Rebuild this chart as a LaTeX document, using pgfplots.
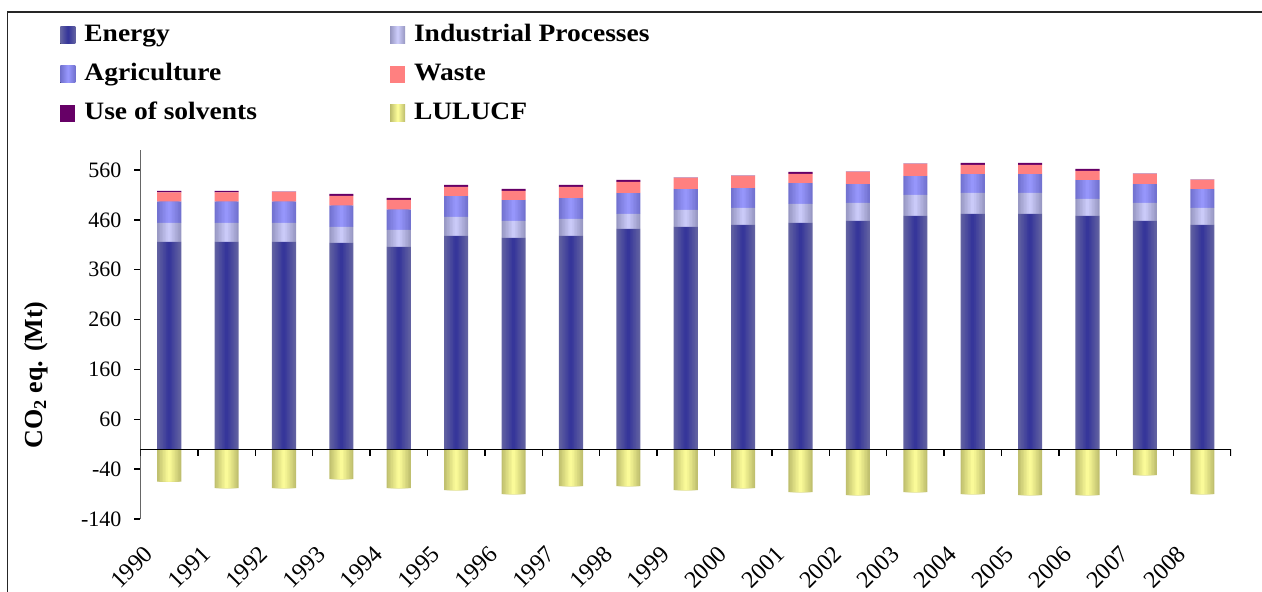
\documentclass[border=0pt]{standalone}
\usepackage{fontspec}
\setmainfont{Liberation Serif}
\newfontfamily\legfont{Liberation Serif}[FakeStretch=1.1]
\usepackage{pgfplots}
\usepackage{pgfplotstable}
\pgfplotsset{compat=1.18}

\definecolor{enEdge}{RGB}{100,100,162}
\definecolor{enMid}{RGB}{51,51,153}
\definecolor{ipEdge}{RGB}{150,150,192}
\definecolor{ipMid}{RGB}{206,206,252}
\definecolor{agEdge}{RGB}{112,112,205}
\definecolor{agMid}{RGB}{153,153,255}
\definecolor{waste}{RGB}{255,128,128}
\definecolor{solv}{RGB}{102,0,102}
\definecolor{luEdge}{RGB}{188,188,108}
\definecolor{luMid}{RGB}{255,255,155}

% idx: 0 = 1990 ... 18 = 2008, Mt CO2 eq.
\pgfplotstableread{
idx energy indus agri waste solv lulucf
0  416 38 43 18 3   -65
1  416 38 43 18 3   -78
2  416 38 43 19 0.5 -78
3  414 32 43 19 4   -60
4  406 34 41 19 4   -78
5  428 38 42 18 4   -82
6  424 34 42 18 4   -90
7  428 34 42 22 4   -74
8  442 30 42 22 4   -74
9  446 34 42 22 0.5 -82
10 450 34 40 24 0.5 -78
11 454 38 42 18 4   -86
12 458 36 38 24 0.5 -92
13 468 42 38 24 0.5 -86
14 472 42 38 18 4   -90
15 472 42 38 18 4   -92
16 468 34 38 18 4   -92
17 458 36 38 20 0.5 -52
18 450 34 38 18 0.5 -90
}\ghg

\pgfplotsset{ghgbase/.style={
  at={(0,0)}, anchor=south west,
  scale only axis, width=545.25pt, height=184.5pt,
  ybar stacked, stack negative=separate,
  xmin=-0.5, xmax=18.5, ymin=-140, ymax=600}}

\begin{document}
\begin{tikzpicture}
\path[use as bounding box] (-70.25pt,-36pt) rectangle (560.75pt,259.5pt);
\draw[line width=0.8pt, black!85] (-66.5pt,-40pt) -- (-66.5pt,253.6pt) -- (565pt,253.6pt);
% horizontal gradient of the bars: nested strips, edge colour outside, mid colour inside
\foreach \k in {0,...,7}{
  \pgfmathsetmacro\w{0.42*(1-\k/8)}
  \pgfmathtruncatemacro\m{(\k+0.5)*12.5}
  \begin{axis}[ghgbase, hide axis, bar width=\w]
  \addplot[draw=none, fill=enMid!\m!enEdge] table[x=idx,y=energy] {\ghg};
  \addplot[draw=none, fill=ipMid!\m!ipEdge] table[x=idx,y=indus] {\ghg};
  \addplot[draw=none, fill=agMid!\m!agEdge] table[x=idx,y=agri] {\ghg};
  \addplot[draw=none, fill=luMid!\m!luEdge] table[x=idx,y=lulucf] {\ghg};
  \end{axis}
}
\begin{axis}[ghgbase, bar width=0.42,
  axis y line=left, axis x line*=bottom,
  x axis line style={draw=none}, y axis line style={-, draw=black!60, line width=0.8pt},
  xtick=data,
  xticklabels={1990,1991,1992,1993,1994,1995,1996,1997,1998,1999,2000,2001,2002,2003,2004,2005,2006,2007,2008},
  xtick style={draw=none},
  ytick={-140,-40,60,160,260,360,460,560},
  ytick style={black, line width=0.7pt},
  tick align=outside, major tick length=3pt,
  /pgf/number format/assume math mode=true,
  yticklabel style={font=\fontsize{11}{13}\selectfont, xshift=-3pt},
  xticklabel style={font=\fontsize{12}{14}\selectfont, xshift=-7.7pt, yshift=-10pt, rotate=45, anchor=east},
  ylabel={\bfseries CO\textsubscript{2} eq. (Mt)},
  ylabel style={font=\fontsize{13}{15}\selectfont, at={(axis description cs:-0.0958,0.39)}, anchor=center},
  legend columns=2,
  legend image code/.code={\fill[#1] (0pt,-4.25pt) rectangle (7.5pt,4.25pt);},
  legend style={draw=none, fill=none, at={(axis description cs:0,1)}, anchor=north west,
    xshift=-43.25pt, yshift=68pt, font=\legfont\bfseries\fontsize{12.5}{14}\selectfont,
    nodes={inner ysep=2.5pt, inner xsep=4.5pt, text height=9pt, text depth=3pt},
    row sep=2.5pt, /tikz/every even column/.append style={column sep=62pt}},
  legend cell align=left,
]
\addlegendimage{draw=none, left color=enEdge, right color=enEdge, middle color=enMid}
\addlegendimage{draw=none, left color=ipEdge, right color=ipEdge, middle color=ipMid}
\addlegendimage{draw=none, left color=agEdge, right color=agEdge, middle color=agMid}
\addlegendimage{draw=none, fill=waste}
\addlegendimage{draw=none, fill=solv}
\addlegendimage{draw=none, left color=luEdge, right color=luEdge, middle color=luMid}
\addplot[draw=none, fill=none, forget plot] table[x=idx,y=energy] {\ghg};
\addplot[draw=none, fill=none, forget plot] table[x=idx,y=indus] {\ghg};
\addplot[draw=none, fill=none, forget plot] table[x=idx,y=agri] {\ghg};
\addplot[draw=none, fill=waste, forget plot] table[x=idx,y=waste] {\ghg};
\addplot[draw=none, fill=solv, forget plot] table[x=idx,y=solv] {\ghg};
\addplot[draw=none, fill=none, forget plot] table[x=idx,y=lulucf] {\ghg};
\legend{Energy,Industrial Processes,Agriculture,Waste,Use of solvents,LULUCF}
\draw[black, line width=0.7pt] (axis cs:-0.5,0) -- (axis cs:18.5,0);
\pgfplotsinvokeforeach{-0.5,0.5,...,18.5}{
  \draw[black, line width=0.7pt] (axis cs:#1,0) -- ([yshift=-3.5pt]axis cs:#1,0);
}
\end{axis}
\end{tikzpicture}
\end{document}
